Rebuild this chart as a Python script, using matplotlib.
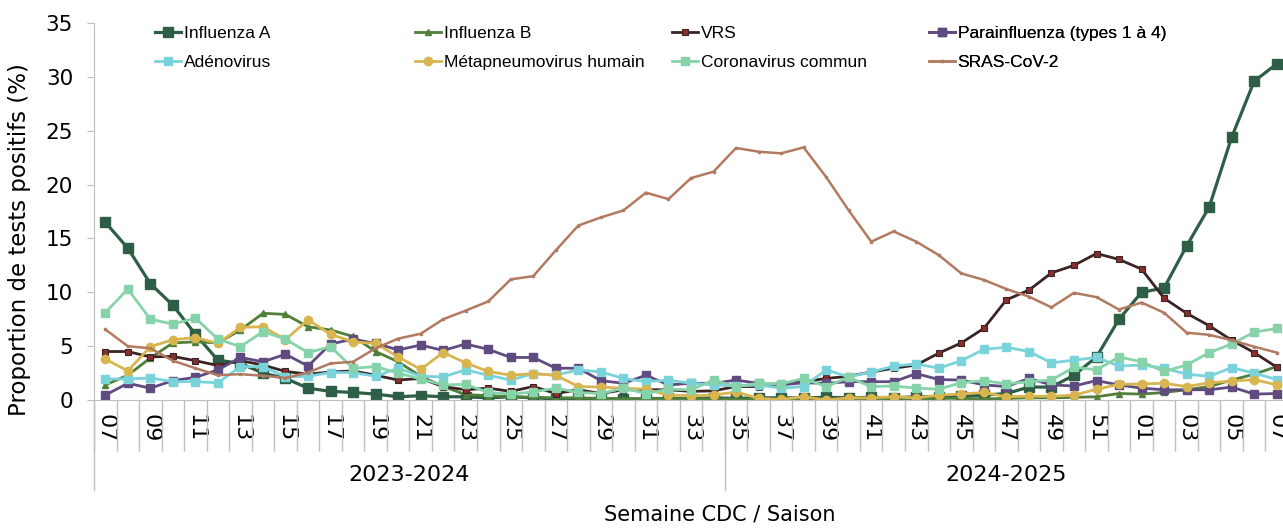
import matplotlib
matplotlib.use('Agg')
from matplotlib import pyplot as plt

# CDC weeks: 2024 w07..w52 then 2025 w01..w07
weeks = list(range(7, 53)) + list(range(1, 8))
seasons = ['2023-2024', '2024-2025']
season_start = [0, 28]   # index of first week of each season (w35 starts 2024-2025)

flu_a = [16.5, 14.1, 10.8, 8.8, 6.1, 3.7, 3.4, 2.5, 2.0, 1.1,
         0.8, 0.7, 0.55, 0.3, 0.4, 0.3, 0.3, 0.2, 0.3, 0.2,
         0.1, 0.15, 0.1, 0.1, 0.1, 0.15, 0.1, 0.2, 0.15, 0.2,
         0.2, 0.2, 0.25, 0.2, 0.25, 0.2, 0.3, 0.3, 0.35, 0.45,
         0.6, 1.2, 1.2, 2.3, 4.0, 7.5, 10.0, 10.4, 14.3, 17.9,
         24.4, 29.6, 31.2]
flu_b = [1.4, 2.3, 3.9, 5.3, 5.4, 5.3, 6.5, 8.05, 7.95, 6.8,
         6.5, 5.9, 4.5, 3.55, 2.2, 1.25, 0.5, 0.4, 0.3, 0.25,
         0.2, 0.2, 0.15, 0.1, 0.1, 0.1, 0.1, 0.1, 0.1, 0.05,
         0.05, 0.05, 0.1, 0.1, 0.1, 0.1, 0.05, 0.15, 0.15, 0.1,
         0.15, 0.2, 0.2, 0.25, 0.3, 0.6, 0.55, 0.7, 0.95, 1.25,
         1.85, 2.4, 3.1]
vrs = [4.5, 4.5, 4.0, 4.05, 3.65, 3.2, 3.65, 3.25, 2.65, 2.4,
       2.6, 2.7, 2.3, 1.85, 2.0, 1.25, 0.95, 1.1, 0.8, 1.25,
       0.6, 0.95, 0.6, 0.95, 0.95, 0.95, 0.8, 0.85, 1.25, 1.25,
       1.55, 1.7, 2.0, 2.2, 2.6, 2.95, 3.25, 4.35, 5.3, 6.65,
       9.3, 10.2, 11.8, 12.5, 13.6, 13.05, 12.15, 9.45, 8.05, 6.9,
       5.55, 4.4, 3.05]
para = [0.45, 1.55, 1.1, 1.8, 2.1, 2.8, 3.95, 3.55, 4.25, 3.15,
        5.2, 5.65, 5.25, 4.65, 5.1, 4.6, 5.2, 4.7, 3.95, 3.95,
        2.95, 2.95, 1.8, 1.55, 2.3, 1.4, 1.55, 1.55, 1.85, 1.55,
        1.4, 1.6, 1.55, 1.7, 1.7, 1.7, 2.45, 1.9, 1.85, 1.4,
        1.25, 2.0, 1.4, 1.3, 1.8, 1.4, 1.1, 0.95, 0.95, 0.95,
        1.2, 0.55, 0.6]
adeno = [1.95, 1.95, 2.05, 1.7, 1.7, 1.6, 3.1, 3.1, 2.15, 2.2,
         2.55, 2.55, 2.2, 2.95, 2.2, 2.15, 2.8, 2.3, 1.85, 2.45,
         2.3, 2.8, 2.6, 2.0, 1.7, 1.85, 1.55, 1.4, 1.3, 1.4,
         1.1, 1.25, 2.8, 2.15, 2.6, 3.15, 3.35, 2.95, 3.65, 4.7,
         4.9, 4.5, 3.45, 3.7, 3.95, 3.15, 3.25, 2.95, 2.4, 2.2,
         3.0, 2.5, 1.9]
meta = [3.8, 2.7, 4.95, 5.6, 5.8, 5.25, 6.75, 6.8, 5.6, 7.45,
        6.1, 5.4, 5.25, 4.0, 2.85, 4.4, 3.45, 2.65, 2.3, 2.45,
        2.3, 1.25, 1.2, 1.1, 1.0, 0.45, 0.4, 0.45, 0.75, 0.15,
        0.05, 0.3, 0.0, 0.2, 0.2, 0.3, 0.2, 0.45, 0.55, 0.7,
        0.3, 0.35, 0.35, 0.45, 1.0, 1.45, 1.5, 1.55, 1.25, 1.6,
        1.75, 1.9, 1.4]
corona = [8.1, 10.3, 7.5, 7.05, 7.6, 5.65, 4.95, 6.35, 5.65, 4.4,
          4.95, 2.95, 3.1, 2.5, 1.95, 1.4, 1.45, 0.7, 0.55, 0.75,
          1.1, 0.7, 0.6, 1.1, 0.6, 1.0, 0.95, 1.85, 1.25, 1.55,
          1.5, 2.0, 1.25, 2.1, 1.25, 1.3, 1.1, 1.0, 1.6, 1.8,
          1.5, 1.7, 1.85, 3.05, 2.8, 4.0, 3.55, 2.65, 3.25, 4.4,
          5.2, 6.3, 6.65]
sras = [6.55, 5.0, 4.8, 3.65, 2.95, 2.3, 2.4, 2.25, 2.05, 2.55,
        3.4, 3.55, 4.8, 5.7, 6.15, 7.5, 8.3, 9.15, 11.2, 11.5,
        13.9, 16.2, 16.95, 17.6, 19.25, 18.65, 20.6, 21.2, 23.4, 23.05,
        22.9, 23.45, 20.7, 17.6, 14.7, 15.65, 14.7, 13.45, 11.75, 11.15,
        10.3, 9.6, 8.6, 9.95, 9.55, 8.4, 9.05, 8.1, 6.25, 6.05,
        5.55, 4.95, 4.4]

W, H = 1283, 529
fig = plt.figure(figsize=(W / 100, H / 100), dpi=100)
ax = fig.add_axes([94 / W, 1 - 400 / H, (1288 - 94) / W, 377 / H])
x = list(range(len(weeks)))

lines = {}
lines['Influenza A'] = ax.plot(x, flu_a, color='#2e5e46', lw=2.3, marker='s', ms=7)[0]
lines['Influenza B'] = ax.plot(x, flu_b, color='#4f7f3a', lw=2.0, marker='^', ms=4)[0]
lines['VRS'] = ax.plot(x, vrs, color='#3b2424', lw=2.0, marker='s', ms=4,
                       mfc='#8a2d2d', mec='#3b2424', mew=0.8)[0]
lines['Parainfluenza (types 1 à 4)'] = ax.plot(x, para, color='#5f4b80', lw=2.0, marker='s', ms=6)[0]
lines['Adénovirus'] = ax.plot(x, adeno, color='#7ad3db', lw=2.0, marker='s', ms=6)[0]
lines['Métapneumovirus humain'] = ax.plot(x, meta, color='#d9b54f', lw=2.0, marker='o', ms=6)[0]
lines['Coronavirus commun'] = ax.plot(x, corona, color='#86d3aa', lw=2.0, marker='s', ms=6)[0]
lines['SRAS-CoV-2'] = ax.plot(x, sras, color='#b27a60', lw=1.8, marker='s', ms=1.5)[0]

ax.set_xlim(-0.5, len(weeks) - 0.5)
ax.set_ylim(0, 35)
ax.set_yticks(range(0, 36, 5))
ax.tick_params(axis='y', length=5, color='#bfbfbf', labelsize=15.5, pad=10)
for lab in ax.get_yticklabels():
  lab.set_fontfamily('DejaVu Sans')

# week labels every 2 weeks, boundary ticks between every week
ax.set_xticks(x[::2])
ax.set_xticklabels(['%02d' % w for w in weeks[::2]], rotation=-90,
                   fontsize=16, fontfamily='DejaVu Sans')
ax.set_xticks([i - 0.5 for i in range(len(weeks) + 1)], minor=True)
ax.tick_params(axis='x', which='major', length=0, pad=10)
ax.tick_params(axis='x', which='minor', length=37, color='#bfbfbf', width=1)

for s in ['top', 'right']:
  ax.spines[s].set_visible(False)
for s in ['left', 'bottom']:
  ax.spines[s].set_color('#bfbfbf')

# season separators and labels
trans = ax.get_xaxis_transform()
bounds = season_start + [len(weeks)]
for b in bounds:
  ax.plot([b - 0.5, b - 0.5], [0, -90 / 377], transform=trans, color='#bfbfbf',
          lw=1, clip_on=False)
for k in range(len(seasons)):
  mid = (bounds[k] + bounds[k + 1] - 1) / 2
  ax.text(mid, -75 / 377, seasons[k], transform=trans, ha='center', va='center',
          fontsize=16, fontfamily='DejaVu Sans')

fig.text(720 / W, 1 - 515 / H, 'Semaine CDC / Saison', ha='center', va='center',
         fontsize=15, fontfamily='DejaVu Sans')
fig.text(20 / W, 1 - 240 / H, 'Proportion de tests positifs (%)', ha='center',
         va='center', rotation=90, fontsize=16.5, fontfamily='DejaVu Sans')

# legend: 4 columns x 2 rows, evenly spaced like the source
columns = [['Influenza A', 'Adénovirus'],
           ['Influenza B', 'Métapneumovirus humain'],
           ['VRS', 'Coronavirus commun'],
           ['Parainfluenza (types 1 à 4)', 'SRAS-CoV-2']]
col_x = [155, 415, 672, 929]
for names, cx in zip(columns, col_x):
  leg = ax.legend([lines[n] for n in names], names, loc='upper left',
                  bbox_to_anchor=(cx / W, 1 - 26 / H), bbox_transform=fig.transFigure,
                  frameon=False, borderpad=0, borderaxespad=0, handlelength=1.5,
                  handletextpad=0.15, labelspacing=0.8, numpoints=1,
                  prop={'family': 'Liberation Sans', 'size': 12.5})
  ax.add_artist(leg)

fig.savefig('out.png', dpi=100)
